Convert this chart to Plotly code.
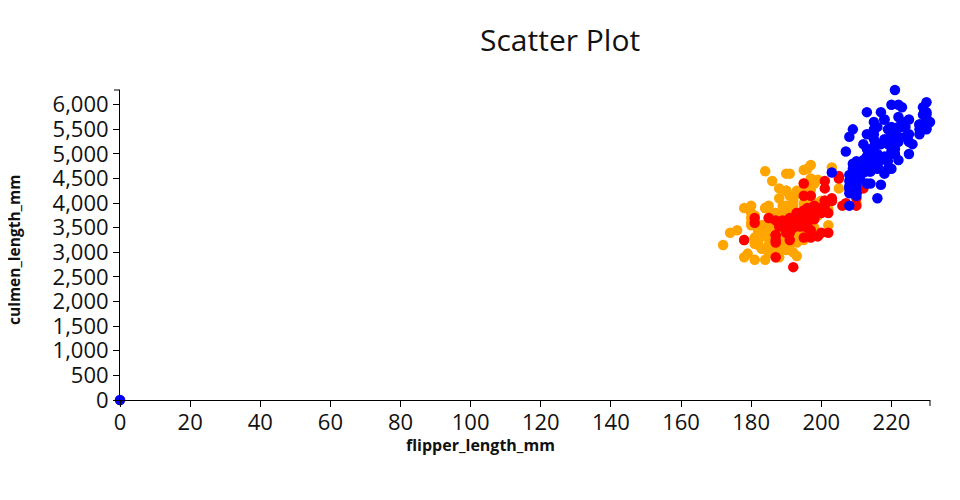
import plotly.graph_objects as go

# Adelie (flipper_length_mm, body mass) -- missing row shown at 0
adelie_x = [181,186,195,0,193,190,181,195,193,190,186,180,182,191,198,185,195,197,184,194,
            174,180,189,185,180,187,183,187,172,180,178,178,188,184,195,196,190,180,181,184,
            182,195,186,196,185,190,182,179,190,191,186,188,190,200,187,191,186,193,181,194,
            185,195,185,192,184,192,195,188,190,198,190,190,196,197,190,195,191,184,187,195,
            189,196,187,193,191,194,190,189,189,190,202,205,185,186,187,208,190,196,178,192,
            192,203,183,190,193,184,199,190,181,197,198,191,193,197,191,196,188,199,189,189,
            187,198,176,202,186,199,191,195,191,210,190,197,193,199,187,190,191,200,185,193,
            193,187,188,190,192,185,190,184,195,193,187,201]
adelie_y = [3750,3800,3250,0,3450,3650,3625,4675,3475,4250,3300,3700,3200,3800,4400,3700,3450,4500,3325,4200,
            3400,3600,3800,3950,3800,3800,3550,3200,3150,3950,3250,3900,3300,3900,3325,4150,3950,3550,3300,4650,
            3150,3900,3100,4400,3000,4600,3425,2975,3450,4150,3500,4300,3450,4050,2900,3700,3550,3800,2850,3750,
            3150,4400,3600,4050,2850,3950,3350,4100,3050,4450,3600,3900,3550,4150,3700,4250,3700,3900,3550,4000,
            3200,4700,3800,4200,3350,3550,3800,3500,3950,3600,3550,4300,3400,4450,3300,4300,3700,4350,2900,4100,
            3725,4725,3075,4250,2925,3550,3750,3900,3175,4775,3825,4600,3200,4275,3900,4075,2900,3775,3350,3325,
            3150,3500,3450,3875,3050,4000,3275,4300,3050,4000,3325,3500,3500,4475,3425,3900,3175,3975,3400,4250,
            3400,3475,3050,3725,3000,3650,4250,3475,3450,3750,3700,4000]

chinstrap_x = [192,196,193,188,197,198,178,197,195,198,193,194,185,201,190,201,197,181,190,195,
               181,191,187,193,195,197,200,200,191,205,187,201,187,203,195,199,195,210,192,205,
               210,187,196,196,196,201,190,212,187,198,199,201,193,203,187,197,191,203,202,194,
               206,189,195,207,202,193,210,198]
chinstrap_y = [3500,3900,3650,3525,3725,3950,3250,3750,4150,3700,3800,3775,3700,4050,3575,4050,3300,3700,3450,4400,
               3600,3400,2900,3800,3300,4150,3400,3800,3700,4550,3200,4300,3350,4100,3600,3900,3850,4800,2700,4500,
               3950,3650,3550,3500,3675,4450,3400,4300,3250,3675,3325,3950,3600,4050,3350,3450,3250,4050,3800,3525,
               3950,3650,3650,4000,3400,3775,4100,3775]

gentoo_x = [211,230,210,218,215,210,211,219,209,215,214,216,214,213,210,217,210,221,209,222,
            218,215,213,215,215,215,216,215,210,220,222,209,207,230,220,220,213,219,208,208,
            208,225,210,216,222,217,210,225,213,215,210,220,210,225,217,220,208,220,208,224,
            208,221,214,231,219,230,214,229,220,223,216,221,221,217,216,230,209,220,215,223,
            212,221,212,224,212,228,218,218,212,230,218,228,212,224,214,226,216,222,203,225,
            219,228,215,228,216,215,210,219,208,209,216,229,213,230,217,230,217,222,214,0,
            215,222,212,213]
gentoo_y = [4500,5700,4450,5700,5400,4550,4800,5200,4400,5150,4650,5550,4650,5850,4200,5850,4150,6300,4800,5350,
            5700,5000,4400,5050,5000,5100,4100,5650,4600,5550,5250,4700,5050,6050,5150,5400,4950,5250,4350,5350,
            3950,5700,4300,4750,5550,4900,4200,5400,5100,5300,4850,5300,4400,5000,4900,5050,4300,5000,4450,5550,
            4200,5300,4400,5650,4700,5700,4650,5800,4700,5550,4750,5000,5100,5200,4700,5800,4600,6000,4750,5950,
            4625,5450,4725,5350,4750,5600,4600,5300,4875,5550,4950,5400,4750,5650,4850,5200,4925,4875,4625,5250,
            4850,5600,4975,5500,4725,5500,4700,5500,4575,5500,5000,5950,4650,5500,4375,5850,4875,6000,4925,0,
            4850,5750,5200,5400]

series = [("Adelie", adelie_x, adelie_y, "#FFA500"),
          ("Chinstrap", chinstrap_x, chinstrap_y, "#FF0000"),
          ("Gentoo", gentoo_x, gentoo_y, "#0000FF")]

x_ticks = list(range(0, 221, 20))
y_ticks = list(range(0, 6001, 500))

fig = go.Figure()
for name, xs, ys, col in series:
    fig.add_trace(go.Scatter(x=xs, y=ys, mode="markers", name=name,
                             marker=dict(color=col, size=10.5, line=dict(width=0)),
                             cliponaxis=False))

font = "Open Sans, Noto Sans, sans-serif"
axis_common = dict(showgrid=False, zeroline=False, showline=True, linecolor="black",
                   linewidth=1, ticks="outside", ticklen=6, tickcolor="black",
                   tickfont=dict(family=font, size=22, color="#111"))

# page has an 8px body offset; plot area should sit at x 120..930, y 90..400
L, T, PW, PH = 112, 82, 810, 310
fig.update_layout(
    width=944, height=484,
    margin=dict(l=L, r=944 - L - PW, t=T, b=484 - T - PH),
    paper_bgcolor="white", plot_bgcolor="white",
    showlegend=False,
    xaxis=dict(range=[0, 231], tickvals=x_ticks, ticklabelstandoff=-3, **axis_common),
    yaxis=dict(range=[0, 6300], tickvals=y_ticks, tickformat=",", **axis_common),
    annotations=[
        dict(text="Scatter Plot", xref="paper", yref="paper", x=(560-120)/PW, y=1+(90-40)/PH,
             xanchor="center", yanchor="middle", showarrow=False,
             font=dict(family=font, size=30, color="#111")),
        dict(text="<b>flipper_length_mm</b>", xref="paper", yref="paper", x=(480-120)/PW,
             y=-(445-400)/PH, xanchor="center", yanchor="middle", showarrow=False,
             font=dict(family=font, size=16, color="#111")),
        dict(text="<b>culmen_length_mm</b>", xref="paper", yref="paper", x=-(120-14)/PW,
             y=(400-250)/PH, xanchor="center", yanchor="middle", textangle=-90, showarrow=False,
             font=dict(family=font, size=15.5, color="#111")),
    ],
    shapes=[
        dict(type="line", xref="paper", yref="paper", xsizemode="pixel", xanchor=0,
             x0=-6, x1=0, y0=1, y1=1, line=dict(color="black", width=1)),
        dict(type="line", xref="paper", yref="paper", ysizemode="pixel", yanchor=0,
             x0=1, x1=1, y0=-6, y1=0, line=dict(color="black", width=1)),
    ],
)

fig.write_html("out.html")
